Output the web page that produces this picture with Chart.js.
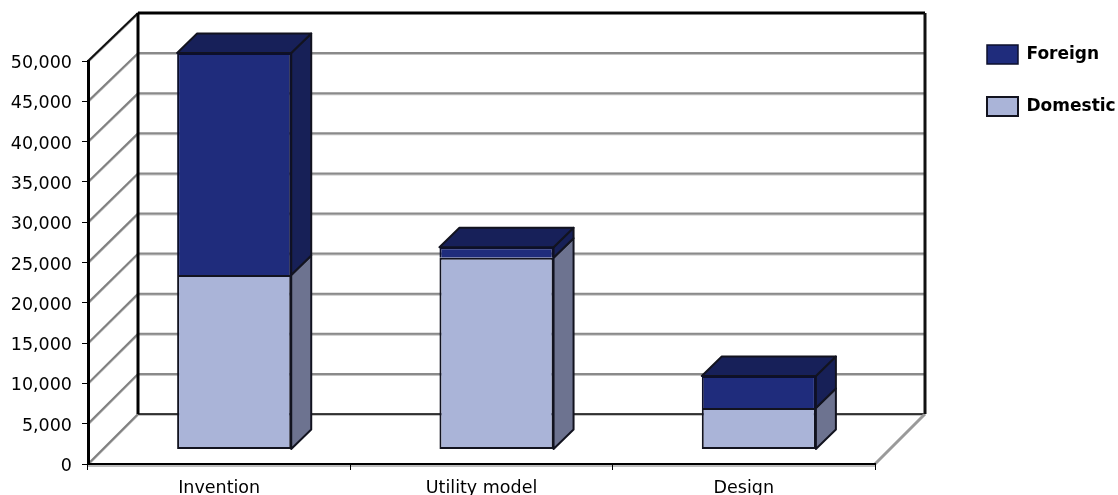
<!DOCTYPE html>
<html>
<head>
<meta charset="utf-8">
<title>Applications by type</title>
<script src="https://cdn.jsdelivr.net/npm/chart.js@4/dist/chart.umd.min.js"></script>
<style>
    html, body { margin: 0; padding: 0; background: #fff; }
    canvas { display: block; }
</style>
</head>
<body>
<canvas id="appsChart" width="1118" height="495"></canvas>
<script>
const categories = ['Invention', 'Utility model', 'Design'];
const domestic = [21650, 23800, 5150];
const foreign = [27550, 1290, 3970];

// box shift of the bars inside the room, and the room's own depth
const barShift = { x: 15, y: -14.5 };
const barDepth = { x: 20, y: -19.5 };
const wallDepth = { x: 50, top: -48, bottom: -50 };

function line(ctx, x1, y1, x2, y2, color, width) {
    ctx.strokeStyle = color;
    ctx.lineWidth = width;
    ctx.beginPath();
    ctx.moveTo(x1, y1);
    ctx.lineTo(x2, y2);
    ctx.stroke();
}

function polygon(ctx, pts, fill) {
    ctx.fillStyle = fill;
    ctx.strokeStyle = '#12131f';
    ctx.lineWidth = 2;
    ctx.lineJoin = 'round';
    ctx.beginPath();
    pts.forEach((p, i) => i ? ctx.lineTo(p[0], p[1]) : ctx.moveTo(p[0], p[1]));
    ctx.closePath();
    ctx.fill();
    ctx.stroke();
}

// side wall, back wall and floor, positioned from the value scale
const roomPlugin = {
    id: 'room',
    beforeDraw(chart) {
        const ctx = chart.ctx;
        const area = chart.chartArea;
        const y = chart.scales.y;
        const dx = wallDepth.x;
        const backY = py => py + wallDepth.top + (wallDepth.bottom - wallDepth.top) * (py - area.top) / area.height;
        ctx.save();
        y.ticks.forEach(t => {
            if (t.value === y.max) return;
            const py = y.getPixelForValue(t.value);
            const by = backY(py);
            const floor = t.value === y.min;
            line(ctx, area.left, py + 1, area.left + dx, by + 1, '#bdbdbd', 2);
            line(ctx, area.left, py, area.left + dx, by, '#808080', 2);
            line(ctx, area.left + dx, by + 1, area.right + dx, by + 1, '#c4c4c4', 2);
            line(ctx, area.left + dx, by, area.right + dx, by, floor ? '#000' : '#8a8a8a', floor ? 1.5 : 2);
        });
        const ty = area.top, backTop = backY(ty);
        const fy = area.bottom, backFloor = backY(fy);
        // top edge running back from the value axis
        line(ctx, area.left, ty + 1, area.left + dx, backTop + 1, '#999', 2);
        line(ctx, area.left, ty, area.left + dx, backTop, '#111', 2);
        // floor edge on the right and under the front axis
        line(ctx, area.right, fy, area.right + dx, backFloor, '#9a9a9a', 3);
        line(ctx, area.left, fy + 2, area.right, fy + 2, '#bdbdbd', 2);
        // back wall frame
        line(ctx, area.left + dx, backTop, area.right + dx, backTop, '#000', 3);
        line(ctx, area.left + dx, backTop, area.left + dx, backFloor, '#000', 3);
        line(ctx, area.right + dx, backTop, area.right + dx, backFloor, '#111', 3);
        ctx.restore();
    },
    beforeDatasetsDraw(chart) {
        const ctx = chart.ctx;
        ctx.save();
        ctx.translate(barShift.x, barShift.y);
        chart.data.datasets.forEach((ds, i) => {
            const last = i === chart.data.datasets.length - 1;
            chart.getDatasetMeta(i).data.forEach(el => {
                const l = el.x - el.width / 2;
                const r = el.x + el.width / 2;
                const dx = barDepth.x, dy = barDepth.y;
                polygon(ctx, [[r, el.base], [r + dx, el.base + dy], [r + dx, el.y + dy], [r, el.y]], ds.sideColor);
                if (last) {
                    polygon(ctx, [[l, el.y], [l + dx, el.y + dy], [r + dx, el.y + dy], [r, el.y]], ds.topColor);
                }
            });
        });
    },
    afterDatasetsDraw(chart) {
        chart.ctx.restore();
    },
    // legend sits outside the plot, right of the room
    afterLayout(chart) {
        const lg = chart.legend;
        const pad = chart.options.plugins.legend.labels.padding;
        lg.left = 987 - pad;
        lg.right = 1118;
        lg.top = 45 - pad;
        lg.bottom = 495;
    },
    // value labels sit a little under their tick marks
    afterUpdate(chart) {
        chart.scales.y.getLabelItems(chart.chartArea).forEach(item => { item.textOffset += 2.5; });
    }
};

new Chart(document.getElementById('appsChart'), {
    type: 'bar',
    data: {
        labels: categories,
        datasets: [
            { label: 'Domestic', data: domestic, backgroundColor: '#aab4d8', borderColor: '#12131f', borderWidth: 2, borderSkipped: false, sideColor: '#6d7390', clip: false },
            { label: 'Foreign', data: foreign, backgroundColor: '#1f2c7c', borderColor: '#0c0f2c', borderWidth: { top: 2, right: 2, bottom: 0, left: 2 }, borderSkipped: false, sideColor: '#172057', topColor: '#172059', clip: false }
        ]
    },
    options: {
        responsive: false,
        animation: false,
        categoryPercentage: 0.435,
        barPercentage: 1,
        layout: { padding: { top: 61, right: 243, bottom: 0, left: 0 } },
        plugins: {
            legend: {
                position: 'chartArea',
                align: 'start',
                reverse: true,
                labels: {
                    boxWidth: 31,
                    boxHeight: 19,
                    padding: 33,
                    color: '#000',
                    font: { family: '"DejaVu Sans"', size: 17, weight: 'bold' }
                }
            },
            tooltip: { enabled: false }
        },
        scales: {
            x: {
                stacked: true,
                afterFit(scale) { scale.height = 31; },
                grid: { drawOnChartArea: false, tickLength: 6, tickColor: '#000', tickWidth: 1 },
                border: { color: '#000', width: 2 },
                ticks: { color: '#000', padding: 8, maxRotation: 0, font: { family: '"DejaVu Sans"', size: 17.5 } }
            },
            y: {
                stacked: true,
                min: 0,
                max: 50000,
                afterFit(scale) { scale.width = 88; },
                grid: { drawOnChartArea: false, tickLength: 6, tickColor: '#000', tickWidth: 1 },
                border: { color: '#000', width: 3 },
                ticks: {
                    stepSize: 5000,
                    color: '#000',
                    padding: 10,
                    font: { family: '"DejaVu Sans"', size: 17.5 },
                    callback: v => v.toLocaleString('en-US')
                }
            }
        }
    },
    plugins: [roomPlugin]
});
</script>
</body>
</html>
